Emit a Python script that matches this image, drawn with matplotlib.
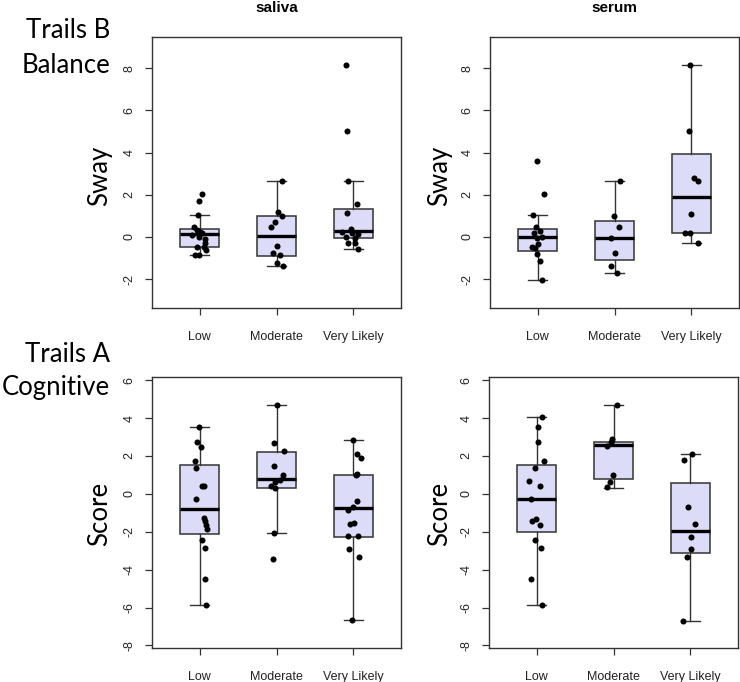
import numpy as np
import matplotlib
matplotlib.use('Agg')
import matplotlib.pyplot as plt

plt.rcParams['font.family'] = ['Liberation Sans', 'DejaVu Sans']
plt.rcParams['axes.unicode_minus'] = False

groups = ['Low', 'Moderate', 'Very Likely']
columns = ['saliva', 'serum']

# ---------------- data ----------------
# Trails B / Balance (Sway), saliva
sway_saliva_low = [2.04, 1.69, 1.04, 0.46, 0.33, 0.25, 0.21, 0.09, 0.02, -0.11, -0.30, -0.46, -0.49, -0.62, -0.84, -0.84]
sway_saliva_mod = [2.65, 1.2, 1.01, 0.73, 0.49, -0.44, -0.75, -0.86, -1.25, -1.37]
sway_saliva_vl = [8.15, 5.04, 2.65, 1.55, 1.12, 0.38, 0.25, 0.17, 0.15, -0.02, -0.07, -0.3, -0.27, -0.57]
# Trails B / Balance (Sway), serum
sway_serum_low = [3.62, 2.04, 1.04, 0.48, 0.3, 0.2, 0.0, -0.05, -0.33, -0.46, -0.5, -0.83, -1.12, -2.04]
sway_serum_mod = [2.65, 1.01, 0.49, -0.04, -0.75, -1.37, -1.72]
sway_serum_vl = [8.15, 5.04, 2.81, 2.65, 1.1, 0.17, 0.17, -0.3]
# Trails A / Cognitive (Score), saliva
score_saliva_low = [3.54, 2.76, 2.46, 1.74, 1.39, 0.44, 0.44, -0.26, -1.28, -1.45, -1.63, -1.84, -2.46, -2.87, -4.5, -5.86]
score_saliva_mod = [4.7, 2.67, 2.27, 1.48, 0.97, 0.75, 0.61, 0.39, 0.3, -2.09, -3.45]
score_saliva_vl = [2.85, 2.11, 1.88, 1.06, 0.97, -0.4, -0.7, -0.84, -1.53, -1.6, -2.25, -2.25, -2.92, -3.32, -6.67]
# Trails A / Cognitive (Score), serum
score_serum_low = [4.03, 3.52, 2.76, 1.71, 1.36, 0.69, 0.44, -0.26, -1.33, -1.42, -1.64, -2.46, -2.87, -4.5, -5.86]
score_serum_mod = [4.7, 2.9, 2.76, 2.55, 0.97, 0.61, 0.35]
score_serum_vl = [2.11, 1.79, -0.7, -1.6, -2.29, -2.92, -3.31, -6.69]

# horizontal jitter of each dot
jit_sway_saliva = [
    [0.03, -0.013, -0.026, -0.078, -0.035, 0.009, 0.03, -0.1, -0.013, 0.065, 0.074, 0.052, -0.035, 0.082, -0.065, -0.013],
    [0.069, 0.017, 0.078, -0.017, -0.069, 0.013, -0.052, 0.048, 0.004, 0.091],
    [-0.1, -0.087, -0.069, 0.052, -0.078, -0.035, -0.143, -0.013, 0.065, -0.1, 0.022, -0.065, 0.022, 0.065]]
jit_sway_serum = [
    [-0.004, 0.087, -0.056, -0.026, 0.03, -0.043, 0.052, -0.013, 0.009, -0.078, -0.035, -0.013, 0.03, 0.052],
    [0.078, -0.013, 0.061, -0.052, 0.0, -0.043, 0.035],
    [-0.022, -0.035, 0.035, 0.087, 0.0, -0.087, -0.013, 0.087]]
jit_score_saliva = [
    [-0.009, -0.03, 0.022, -0.056, -0.052, 0.035, 0.052, -0.043, 0.056, 0.065, 0.078, 0.095, 0.03, 0.074, 0.065, 0.078],
    [0.0, -0.035, 0.095, -0.03, 0.087, 0.043, -0.017, -0.078, -0.022, -0.035, -0.043],
    [0.0, 0.043, 0.095, 0.052, 0.035, 0.043, 0.0, -0.065, 0.009, -0.043, -0.065, 0.065, -0.056, 0.078, -0.022]]
jit_score_serum = [
    [0.069, 0.017, 0.017, 0.095, -0.026, -0.1, 0.048, -0.069, -0.004, -0.061, 0.039, -0.026, 0.052, -0.078, 0.069],
    [0.052, -0.022, -0.03, -0.087, -0.009, -0.043, -0.087],
    [0.017, -0.078, -0.026, 0.061, 0.009, 0.009, -0.048, -0.091]]

# box statistics as drawn: whislo, q1, median, q3, whishi
box_sway_saliva = [[-0.84, -0.49, 0.13, 0.38, 1.04], [-1.37, -0.89, 0.05, 1.01, 2.65], [-0.57, -0.06, 0.28, 1.33, 2.65]]
box_sway_serum = [[-2.04, -0.65, 0.0, 0.38, 1.04], [-1.72, -1.09, -0.03, 0.76, 2.65], [-0.3, 0.17, 1.9, 3.92, 8.15]]
box_score_saliva = [[-5.86, -2.13, -0.79, 1.53, 3.54], [-2.09, 0.3, 0.79, 2.23, 4.7], [-6.67, -2.29, -0.76, 0.97, 2.85]]
box_score_serum = [[-5.86, -2.02, -0.26, 1.53, 4.03], [0.33, 0.77, 2.59, 2.76, 4.7], [-6.69, -3.13, -1.94, 0.56, 2.11]]

panels = [
    dict(vals=[sway_saliva_low, sway_saliva_mod, sway_saliva_vl], jit=jit_sway_saliva, box=box_sway_saliva,
         ylabel='Sway', yticks=[-2, 0, 2, 4, 6, 8], ylim=(-3.38, 9.46)),
    dict(vals=[sway_serum_low, sway_serum_mod, sway_serum_vl], jit=jit_sway_serum, box=box_sway_serum,
         ylabel='Sway', yticks=[-2, 0, 2, 4, 6, 8], ylim=(-3.38, 9.46)),
    dict(vals=[score_saliva_low, score_saliva_mod, score_saliva_vl], jit=jit_score_saliva, box=box_score_saliva,
         ylabel='Score', yticks=[-8, -6, -4, -2, 0, 2, 4, 6], ylim=(-8.15, 6.15)),
    dict(vals=[score_serum_low, score_serum_mod, score_serum_vl], jit=jit_score_serum, box=box_score_serum,
         ylabel='Score', yticks=[-8, -6, -4, -2, 0, 2, 4, 6], ylim=(-8.15, 6.15)),
]

W, H = 740, 682
fig = plt.figure(figsize=(W / 100, H / 100), dpi=100)

# axes rectangles in pixels: left, top, right, bottom
rects = [(152, 37.3, 401, 308.3), (490, 37.3, 739, 308.3),
         (152, 377.3, 401, 648.3), (489, 377.3, 738, 648.3)]
ylab_x = [100, 440, 100, 440]
ylab_y = [176, 176, 514, 514]

fill = '#dcdcf8'
edge = '#333333'
big_font = ['Lato', 'DejaVu Sans']

for p, r, lx, ly in zip(panels, rects, ylab_x, ylab_y):
    l, t, rr, b = r
    ax = fig.add_axes([l / W, 1 - b / H, (rr - l) / W, (b - t) / H])
    stats = []
    for g, s in zip(groups, p['box']):
        stats.append(dict(whislo=s[0], q1=s[1], med=s[2], q3=s[3], whishi=s[4], fliers=[], label=g))
    ax.bxp(stats, positions=[1, 2, 3], widths=0.5, patch_artist=True, showfliers=False,
           boxprops=dict(facecolor=fill, edgecolor=edge, linewidth=1.1),
           whiskerprops=dict(color=edge, linewidth=1.0),
           capprops=dict(color=edge, linewidth=1.0),
           medianprops=dict(color='black', linewidth=2.4, solid_capstyle='butt'))
    for i, (v, j) in enumerate(zip(p['vals'], p['jit'])):
        ax.scatter(np.array(j) + i + 1, v, s=19, color='black', zorder=5, linewidths=0)
    ax.set_xlim(0.38, 3.62)
    ax.set_ylim(*p['ylim'])
    ax.set_yticks(p['yticks'])
    ax.set_xticks([1, 2, 3])
    ax.set_xticklabels(groups)
    ax.tick_params(axis='both', direction='out', length=5, width=0.9, color=edge,
                   labelsize=9, labelcolor='#222222')
    ax.tick_params(axis='x', pad=11)
    ax.tick_params(axis='y', pad=7, labelrotation=90)
    for lab in ax.get_yticklabels():
        lab.set_va('center')
    for sp in ax.spines.values():
        sp.set_color(edge)
        sp.set_linewidth(1.0)
    fig.text(lx / W, 1 - ly / H, p['ylabel'], rotation=90, ha='center', va='center',
             fontsize=18.5, family=big_font)

# column titles
fig.text(277 / W, 1 - 8.5 / H, columns[0], ha='center', va='center', fontsize=11, fontweight='bold')
fig.text(614 / W, 1 - 8.5 / H, columns[1], ha='center', va='center', fontsize=11, fontweight='bold')

# row labels
row_text = [('Trails B', 38), ('Balance', 73), ('Trails A', 361.7), ('Cognitive', 395)]
for txt, base in row_text:
    fig.text(110 / W, 1 - base / H, txt, ha='right', va='baseline', fontsize=18.5, family=big_font)

fig.savefig('out.png', dpi=100)
